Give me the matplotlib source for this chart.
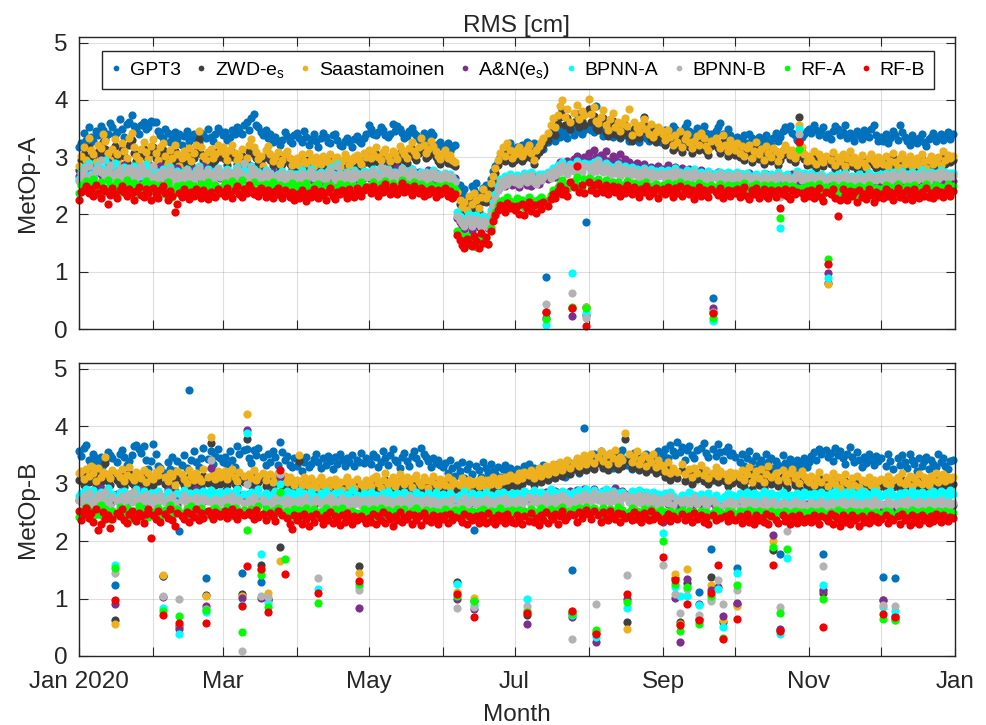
import numpy as np
import matplotlib.pyplot as plt

plt.rcParams['font.family'] = ['Liberation Sans', 'DejaVu Sans']
plt.rcParams['mathtext.fontset'] = 'custom'
plt.rcParams['mathtext.rm'] = 'Liberation Sans'
plt.rcParams['mathtext.it'] = 'Liberation Sans:italic'

series_names = ['GPT3', 'ZWD-e$_\\mathrm{s}$', 'Saastamoinen', 'A&N(e$_\\mathrm{s}$)',
                'BPNN-A', 'BPNN-B', 'RF-A', 'RF-B']
series_colors = ['#0072BD', '#404040', '#EDB120', '#7E2F8E',
                 '#00FFFF', '#B3B3B3', '#00FF00', '#F00000']
month_labels = ['Jan 2020', '', 'Mar', '', 'May', '', 'Jul', '', 'Sep', '', 'Nov', '', 'Jan']

# daily RMS in 1/100 cm, one row per month (Jan..Dec 2020)
# ---- MetOp-A ----
gpt3_a = """
318 325 342 330 352 336 328 345 339 355 347 332 341 360 352 338 344 366 349 335 358 362 373 354 347 340 357 361 349 352 364
362 361 345 338 333 350 342 327 336 344 332 341 322 337 346 329 335 340 331 326 343 338 334 349 336 328 340 351 345
338 344 330 335 348 341 352 346 340 356 361 348 369 375 357 352 344 338 347 333 341 326 335 329 322 330 344 337 328 324 339
342 333 327 345 336 322 331 340 328 318 334 343 336 327 325 339 341 330 322 319 328 333 326 318 331 337 329 324 333 340
356 349 341 338 344 352 347 339 336 340 358 345 354 349 342 333 337 346 351 343 339 331 327 342 336 329 344 338 322 318 326
320 316 325 311 318 322 246 252 238 244 231 226 249 242 255 236 228 247 252 239 262 276 284 292 300 311 306 320 324 315
312 318 308 322 315 327 311 319 324 316 309 321 315 091 326 332 338 329 344 336 351 342 333 348 355 339 346 352 341 347 186
352 348 344 390 356 348 337 345 351 342 336 349 340 333 346 338 341 329 337 344 331 326 339 345 334 328 356 342 330 338 327
338 347 332 341 355 349 336 344 330 352 359 346 338 343 351 337 348 355 342 334 340 054 346 352 360 341 335 349 338 331
327 336 322 330 338 325 341 333 320 328 336 324 331 339 326 321 334 342 329 336 345 352 349 355 343 338 330 326 335 341 346
350 343 357 348 339 345 352 336 341 331 346 355 349 338 344 357 333 342 336 328 345 339 332 347 341 335 350 356 338 329
335 328 341 324 333 346 339 330 357 344 336 329 322 338 331 325 334 340 327 319 332 336 343 328 335 341 330 337 344 332 340
"""
zwd_a = """
278 295 306 289 318 301 297 284 309 303 326 315 298 289 305 319 297 281 312 302 290 321 330 307 294 288 303 314 300 290 309
318 299 289 305 312 295 283 301 291 310 297 278 290 300 294 305 286 298 309 331 306 295 288 298 303 290 296 311 301
305 297 287 301 309 298 288 294 303 283 290 311 318 306 298 289 294 279 301 308 296 286 292 298 282 288 295 300 289 280 285
290 281 295 286 283 297 288 278 291 286 281 292 288 284 295 282 288 292 277 286 295 289 280 286 291 294 287 282 296 292
300 289 296 306 292 288 298 303 293 286 300 296 289 308 302 296 290 305 314 300 295 307 320 310 298 303 316 308 301 293 289
297 301 290 295 288 284 232 219 207 214 202 224 212 230 218 205 222 236 221 229 246 259 272 286 297 305 294 312 302 290
296 302 307 293 299 304 310 298 288 302 309 315 321 030 330 342 352 339 358 371 382 356 368 349 037 362 375 352 364 357 039
384 361 372 351 347 358 368 344 337 353 363 341 349 335 346 356 343 336 329 349 340 334 344 370 354 338 331 346 326 334 341
331 321 337 326 313 328 318 334 309 322 330 317 307 320 327 312 332 324 310 304 319 030 323 316 308 327 313 303 320 310
304 316 300 310 295 307 313 291 302 317 297 306 289 310 300 294 307 303 286 296 304 313 307 297 304 292 300 370 309 297 287
294 288 302 281 298 291 284 295 080 289 300 280 292 286 297 278 291 301 285 293 280 289 296 283 277 291 298 286 281 293
290 283 295 278 287 300 284 277 291 298 282 288 295 278 285 291 280 297 286 275 289 296 283 288 293 281 303 289 297 292 295
"""
saast_a = """
285 302 318 296 334 312 305 291 322 316 340 328 307 296 315 331 306 289 324 311 298 333 342 318 302 295 314 326 309 297 320
331 308 296 317 324 303 290 312 299 322 306 284 298 311 302 316 293 307 321 345 318 303 296 309 314 298 305 322 311
318 306 295 312 321 308 296 302 314 290 299 322 331 318 309 297 303 285 312 320 306 294 301 309 289 296 305 311 298 287 293
299 287 305 294 290 308 296 285 300 293 288 302 297 291 305 289 296 301 283 294 306 298 287 293 300 304 296 289 307 301
312 298 305 318 301 296 309 315 302 294 311 306 297 320 313 305 299 316 326 310 304 318 333 321 308 314 328 319 311 302 297
306 312 299 304 296 291 240 226 213 221 208 232 219 238 225 211 230 244 228 236 255 268 282 296 308 317 303 324 312 298
305 312 318 302 309 315 321 308 296 313 320 327 334 030 342 356 368 352 374 389 400 371 385 362 037 378 392 366 381 373 039
402 375 388 364 359 371 383 356 348 366 377 352 361 345 358 369 354 385 339 362 351 344 356 367 349 341 358 336 344 352 347
341 330 348 335 322 339 327 345 318 332 340 326 316 329 337 321 343 334 319 312 328 028 333 325 316 338 322 311 330 319
312 325 308 319 303 316 322 298 310 327 305 314 296 319 308 301 316 311 293 304 312 322 315 304 312 299 308 357 318 305 294
302 295 311 288 306 299 291 303 079 296 309 287 300 293 305 284 298 310 292 301 287 296 304 290 283 299 306 293 288 301
297 289 303 285 294 308 291 283 299 306 288 295 302 284 291 298 286 305 293 281 296 303 289 294 300 287 311 296 304 299 302
"""
an_a = """
268 275 262 281 289 272 266 278 285 270 263 279 291 274 268 283 276 261 272 287 279 266 273 285 277 264 281 270 268 276 283
279 266 272 284 261 270 277 265 259 274 281 268 262 275 270 258 266 279 271 263 276 284 269 260 273 278 266 271 264
270 263 277 268 259 272 281 266 274 262 269 278 285 271 264 257 270 276 263 268 259 274 266 261 270 264 257 268 273 262 266
264 258 271 266 255 262 270 259 266 273 261 256 268 263 257 270 265 259 262 268 256 263 271 258 265 269 261 257 264 270
268 262 275 266 259 271 278 264 270 262 267 274 281 269 263 276 271 265 279 272 266 274 268 261 270 277 265 260 272 266 262
265 270 262 268 258 263 194 186 180 175 189 182 172 186 191 178 183 195 188 176 201 215 228 242 251 258 249 263 257 252
256 262 248 259 265 252 258 249 261 267 254 260 268 020 262 271 278 266 283 291 287 279 294 286 022 297 303 289 294 301 025
308 295 312 301 289 304 298 310 293 287 302 296 291 305 288 297 283 292 286 279 290 284 277 288 281 275 283 272 279 285 276
280 274 286 271 278 283 269 276 281 268 274 279 266 273 270 263 277 268 272 265 271 036 268 274 262 270 266 259 271 265
268 261 257 270 264 259 272 263 255 267 260 266 258 271 262 256 265 260 253 268 262 257 264 259 270 263 256 340 261 258 265
260 255 267 262 253 258 266 254 097 261 257 250 263 258 254 266 259 252 260 255 249 262 256 251 258 264 253 259 255 261
256 262 251 258 265 254 260 249 257 263 252 259 255 248 261 256 250 258 264 253 257 261 250 256 262 254 259 266 257 262 258
"""
bpnna_a = """
262 275 283 268 290 271 264 279 286 274 281 295 277 269 284 290 273 266 278 283 271 264 276 285 272 280 267 274 288 279 270
281 268 275 262 279 272 266 283 270 259 276 268 261 274 280 266 271 263 277 284 269 273 266 279 271 264 276 282 268
273 267 280 271 264 276 283 269 274 278 266 271 285 279 268 274 262 270 277 266 273 268 260 271 264 276 269 262 273 267 271
270 264 277 268 262 272 279 266 271 260 274 269 263 276 281 270 264 288 273 267 262 275 269 264 278 272 266 271 276 269
274 268 279 263 271 277 266 273 280 269 264 275 271 266 282 276 270 265 279 272 267 261 274 268 275 262 270 278 266 271 263
268 273 262 270 266 259 205 198 192 188 196 201 187 194 199 190 185 197 192 186 208 222 236 249 262 255 268 260 271 265
263 269 258 266 272 261 267 274 262 258 270 265 271 007 275 268 281 274 287 279 292 283 276 288 097 281 294 285 279 290 028
288 277 292 281 296 284 279 290 286 274 283 277 289 272 281 285 276 270 283 275 279 268 277 282 271 275 280 269 276 272 278
274 269 278 265 272 281 268 275 263 270 277 266 273 279 268 262 274 270 265 276 269 014 272 267 275 263 270 274 266 271
268 275 262 270 266 273 259 268 264 271 266 260 273 267 262 270 265 258 274 177 268 262 271 264 259 268 276 349 266 272 263
266 272 260 268 263 271 258 265 089 269 262 257 270 264 260 273 266 259 268 262 257 270 264 260 267 272 262 268 264 269
270 264 273 266 261 275 268 263 271 276 265 270 262 274 268 264 272 277 266 271 263 275 269 273 266 278 271 275 268 273 272
"""
bpnnb_a = """
258 270 279 264 285 267 261 276 282 296 272 266 279 287 270 263 275 281 268 261 273 282 269 277 264 271 285 276 268 273 263
284 266 271 259 276 269 262 280 267 256 272 265 258 271 277 263 268 260 274 281 266 270 263 276 268 261 273 279 265
269 264 276 268 261 273 280 266 271 290 263 268 282 276 265 271 259 267 274 263 270 265 257 268 261 273 266 259 270 264 268
266 261 273 265 259 269 276 263 268 257 271 266 260 273 278 267 261 285 270 264 259 272 266 261 275 269 263 268 273 266
271 265 276 260 268 283 263 270 277 266 261 272 268 263 279 273 267 262 276 269 264 258 271 265 272 259 267 275 263 268 260
265 270 259 267 263 256 198 191 185 180 189 194 180 187 192 183 178 190 185 179 201 215 229 243 256 249 262 254 265 259
257 264 253 261 267 256 262 269 257 253 265 260 266 043 270 263 276 269 282 274 287 278 271 283 063 276 289 280 274 285 020
283 272 287 276 291 279 274 285 281 269 278 272 284 267 276 280 271 265 278 270 274 263 272 277 266 270 275 264 271 267 273
269 264 273 260 267 276 263 270 258 265 272 261 268 274 263 257 269 265 260 271 264 030 267 262 270 258 265 269 261 266
264 270 257 265 261 268 254 263 259 266 261 255 268 262 257 265 260 253 269 230 263 257 266 259 254 263 271 340 261 267 258
262 268 256 264 259 267 254 261 113 265 258 253 266 260 256 269 262 255 264 258 253 266 260 256 263 268 258 264 260 265
266 260 269 262 257 271 264 259 267 272 261 266 258 270 264 260 268 273 262 267 259 271 265 269 262 274 267 271 264 269 268
"""
rfa_a = """
238 251 246 259 244 253 262 241 249 256 238 247 260 252 243 250 257 245 239 254 261 248 242 255 247 236 251 244 258 249 242
253 245 239 252 248 236 257 244 231 240 249 243 251 238 246 254 242 249 237 245 253 241 248 256 243 239 251 246 240
248 255 243 250 258 246 241 253 260 247 244 252 249 256 243 238 251 247 254 242 249 256 245 240 252 247 243 250 246 255 244
246 252 241 248 255 244 239 250 246 253 242 237 249 245 252 240 247 243 254 248 241 251 245 238 249 244 250 256 243 248
250 244 257 248 241 253 246 259 251 244 255 249 243 252 261 247 254 248 242 256 250 245 253 239 248 244 251 246 240 249 243
247 252 243 249 238 245 172 165 158 150 162 147 155 161 143 157 166 152 159 148 176 192 205 214 221 226 218 231 224 220
222 228 217 225 213 221 230 219 224 216 227 231 223 017 226 234 242 236 248 255 261 249 244 253 038 258 266 251 247 262 036
264 251 258 246 262 255 249 260 244 253 257 248 256 243 252 246 259 250 244 255 248 241 253 247 256 242 250 245 253 240 248
251 244 255 248 240 253 246 257 243 249 254 245 251 238 247 255 243 250 246 241 252 020 248 244 253 239 247 251 242 249
246 252 241 249 255 243 238 250 246 253 240 247 252 244 239 251 246 242 249 194 245 251 243 238 250 244 247 314 246 241 249
244 251 239 247 253 242 236 248 122 245 251 240 246 238 252 244 237 249 243 247 235 250 242 246 239 252 244 238 247 242
245 240 252 243 248 237 246 253 241 247 239 250 244 238 252 245 240 248 243 254 241 246 239 251 244 248 242 247 253 244 249
"""
rfb_a = """
226 240 243 249 237 244 232 252 238 229 246 241 218 234 247 236 228 243 250 239 232 245 237 226 241 248 234 230 244 238 225
247 236 229 242 250 238 226 241 233 205 219 238 231 244 236 227 240 233 245 238 229 242 235 227 239 233 230 244 237
240 232 246 236 228 242 249 235 231 244 238 252 245 236 241 233 247 239 230 243 236 228 241 247 234 229 243 237 231 240 226
236 228 242 233 224 238 231 245 237 229 241 234 226 239 246 232 227 240 235 243 238 229 244 236 231 246 239 233 242 248
244 237 250 241 233 247 239 254 243 236 249 242 235 246 255 240 248 241 234 250 243 238 247 232 241 236 244 239 231 242 235
239 246 233 241 228 236 165 156 147 141 158 150 145 162 153 142 167 151 160 148 172 188 199 208 216 213 205 220 212 215
208 214 201 219 199 212 222 206 216 203 218 209 222 030 214 227 236 228 241 249 235 243 232 257 036 248 285 239 251 238 006
256 243 251 238 255 246 240 252 235 247 250 239 248 233 245 237 252 242 236 248 240 231 245 239 250 233 243 237 246 229 241
244 235 248 239 230 246 237 250 232 241 247 236 243 227 238 248 233 242 236 231 245 028 239 234 246 229 238 243 232 241
237 245 230 241 248 233 227 242 236 246 229 238 244 233 228 243 237 231 242 211 236 244 232 227 243 235 239 326 237 229 241
233 243 228 239 246 231 224 240 113 235 244 229 198 226 245 234 225 241 233 239 222 243 231 236 227 245 234 222 239 231
236 229 244 232 239 225 237 246 230 238 227 242 235 226 244 236 229 240 233 247 230 237 228 243 234 240 231 238 246 233 241
"""

# ---- MetOp-B ----
gpt3_b = """
356 348 362 368 341 335 352 344 339 347 333 342 355 349 345 124 338 351 358 346 332 340 349 365 368 360 354 366 342 326 339
369 352 331 328 140 319 337 326 346 322 339 217 333 349 327 463 341 356 338 329 344 362 136 343 357 335 348 361 344
338 347 334 356 341 329 366 352 145 359 360 345 336 358 349 362 129 347 333 351 338 356 347 332 372 355 341 348 333 329 344
331 341 322 338 346 329 335 343 351 337 328 344 333 348 339 325 346 334 352 341 330 345 337 349 331 342 338 353 336 344
341 335 352 347 329 338 356 344 333 350 361 342 337 328 346 353 339 331 348 357 344 336 362 351 347 339 329 344 336 341 333
329 336 318 341 327 314 333 322 338 309 326 334 317 219 331 324 312 337 328 319 335 322 316 329 311 325 333 318 327 321
314 326 318 309 331 322 335 313 327 319 308 324 332 316 321 329 311 325 334 318 328 312 323 336 150 327 341 319 333 396 338
342 329 351 337 346 356 331 344 339 352 328 345 336 349 358 341 333 347 325 354 339 346 331 343 352 338 348 333 345 356 342
352 361 345 368 357 349 372 355 363 341 358 366 350 344 359 112 362 371 353 347 187 360 348 369 355 342 357 364 349 353
346 153 338 352 331 344 357 339 325 348 335 342 329 351 337 344 328 340 333 178 349 336 327 343 334 322 341 330 338 345 329
337 348 355 342 361 351 177 358 346 353 339 362 349 357 344 335 351 364 346 338 355 342 329 347 336 352 341 333 348 339
344 137 331 352 340 326 135 345 333 349 338 327 352 341 335 322 344 331 339 347 326 342 335 329 351 337 344 331 326 339 342
"""
zwd_b = """
307 311 298 314 303 320 308 296 316 302 309 336 305 298 312 063 307 300 315 294 304 318 301 297 310 305 299 313 292 307 300
298 310 304 315 140 300 294 308 302 287 311 052 305 297 291 312 303 296 307 299 294 314 106 301 371 305 297 311 300
304 311 297 307 315 300 294 309 108 302 377 306 298 312 295 303 159 308 296 100 305 292 301 307 190 297 303 291 300 295 286
295 340 288 300 292 284 298 290 281 294 301 286 292 280 295 288 297 284 291 278 293 300 285 292 282 297 157 289 284 295
291 285 298 303 290 282 295 307 288 294 300 285 292 305 297 288 301 294 283 298 304 291 287 300 295 282 293 302 289 285 297
293 287 300 284 295 290 129 286 298 292 283 296 289 095 294 285 297 291 282 295 288 300 292 286 298 293 301 295 304 298
301 295 307 299 310 072 304 313 298 307 316 302 311 320 306 315 324 309 318 327 313 322 331 317 075 325 334 320 329 338 324
330 341 325 040 336 345 328 338 324 342 333 347 325 336 331 378 060 340 327 335 345 323 332 339 320 334 326 341 318 330 322
320 311 326 307 317 135 310 060 323 305 127 314 300 317 308 065 321 304 313 299 138 307 318 302 311 060 305 296 310 301
307 090 300 313 295 306 318 291 303 311 298 315 292 305 320 300 185 307 296 045 312 301 293 308 315 298 304 290 311 302 295
292 303 286 298 310 291 110 300 285 296 307 288 301 282 294 305 290 279 298 287 302 284 295 277 291 300 286 295 282 293
297 098 290 302 286 295 065 300 291 307 288 296 303 285 298 292 305 289 300 294 287 302 296 308 291 299 305 293 301 297 300
"""
saast_b = """
318 322 308 325 314 331 319 305 327 312 320 346 316 309 323 056 318 311 326 304 315 329 312 307 321 316 310 324 302 318 311
308 321 315 326 141 311 304 319 313 297 322 050 316 308 301 323 314 306 318 310 304 325 104 312 382 316 308 322 311
315 322 308 318 326 311 304 320 105 313 421 317 309 323 306 314 150 319 307 110 316 303 312 318 165 308 314 302 311 306 297
306 350 298 311 303 294 309 301 292 305 312 297 303 291 306 299 308 295 302 289 304 311 296 303 293 308 144 300 295 306
302 296 309 314 301 293 306 318 299 305 311 296 303 316 308 299 312 305 294 309 315 302 298 311 306 293 304 313 300 296 308
304 298 311 295 306 301 112 297 309 303 294 307 300 101 305 296 308 302 293 306 299 311 303 297 309 304 312 306 315 309
312 306 318 310 321 080 315 324 309 318 327 313 322 331 317 326 335 320 329 338 324 333 342 328 078 336 345 331 340 349 335
341 352 336 042 347 356 339 349 335 353 344 358 336 347 342 389 047 351 338 346 356 334 343 350 331 345 337 352 329 341 333
331 322 337 318 328 142 321 055 334 316 151 325 311 328 319 060 332 315 324 310 124 318 329 313 322 063 316 307 321 312
318 087 311 324 306 317 329 302 314 322 309 326 303 316 331 311 201 318 307 045 323 312 304 319 326 309 315 301 322 313 306
303 314 297 309 321 302 115 311 296 307 318 299 312 293 305 316 301 290 309 298 313 295 306 288 302 311 297 306 293 304
308 097 301 313 297 306 062 311 302 318 299 307 314 296 309 303 316 300 311 305 298 313 307 319 302 310 316 304 312 308 311
"""
an_b = """
272 281 266 288 275 263 279 286 270 292 268 277 283 265 274 091 282 269 287 276 264 280 271 285 273 267 289 278 262 275 284
279 266 285 271 103 276 289 268 282 274 263 047 278 286 270 281 267 275 290 272 283 269 087 277 327 271 284 266 279
275 288 269 281 273 266 285 277 101 270 393 282 268 276 289 271 101 279 265 097 283 272 268 280 311 274 262 277 284 268 275
271 279 264 276 283 268 275 262 281 273 267 278 270 284 265 276 269 281 263 274 280 267 272 264 277 270 084 274 266 279
268 276 262 273 281 266 270 278 263 275 269 261 277 272 265 280 268 274 263 271 278 266 273 260 275 268 277 264 271 262 269
267 274 261 270 278 264 100 268 276 262 271 265 273 082 269 277 263 272 266 279 268 262 274 270 263 277 269 275 266 272
271 265 278 269 274 055 282 267 276 284 270 279 273 286 268 281 275 288 277 270 285 279 274 287 067 280 289 276 283 291 278
285 279 290 024 283 276 288 281 274 286 278 292 280 273 287 282 100 276 284 271 280 275 286 269 278 273 282 267 276 270 279
233 271 264 276 268 101 262 024 273 266 134 270 259 268 275 091 264 272 261 269 115 266 258 120 271 070 265 260 268 262
268 093 263 259 270 264 257 269 262 254 266 260 271 256 264 268 211 261 255 047 267 259 263 256 270 262 258 266 253 261 265
262 256 268 259 253 264 115 260 255 266 258 262 252 267 260 255 263 257 270 254 261 266 256 259 264 253 260 267 257 262
259 097 265 256 262 254 070 261 266 255 259 263 252 267 258 262 256 264 253 260 266 257 262 255 261 264 256 259 265 258 262
"""
bpnna_b = """
278 284 270 291 276 283 289 273 280 286 271 279 292 275 282 159 277 285 270 288 279 273 284 276 290 281 272 287 279 274 283
282 275 288 271 083 279 286 274 281 268 284 038 277 289 273 283 276 270 285 279 272 287 077 280 289 274 283 277 286
281 274 288 279 271 285 290 276 088 282 389 277 286 273 281 290 177 278 284 093 276 282 288 274 300 281 273 287 279 284 276
280 287 274 283 276 270 285 279 272 117 283 276 288 272 281 277 284 270 286 279 273 282 276 289 274 281 120 277 283 276
279 285 272 281 276 269 284 278 287 273 280 275 283 270 278 286 272 281 277 269 285 274 280 276 271 283 278 273 286 279 275
282 276 270 284 278 273 125 281 275 287 272 279 284 088 276 282 270 278 285 274 280 276 271 283 278 286 274 281 277 283
278 284 273 281 287 100 276 283 289 274 281 286 278 272 284 290 279 285 276 282 288 274 283 279 072 286 280 289 277 284 291
283 278 289 033 281 286 275 290 282 277 288 279 284 273 286 281 084 278 287 274 283 289 276 281 285 272 279 286 274 282 278
214 283 276 286 279 120 273 104 281 277 104 285 272 280 276 088 282 271 278 284 100 275 281 117 273 050 279 284 274 280
277 145 283 274 280 286 271 278 284 273 281 276 287 270 279 283 275 272 280 038 285 274 170 281 277 272 284 279 275 286 281
282 276 284 279 273 286 124 280 275 283 277 288 272 281 276 285 279 273 286 277 282 274 288 279 283 275 281 287 276 284
279 085 283 276 288 281 078 275 284 279 286 273 281 288 277 283 275 286 280 274 284 279 287 276 282 288 279 284 277 289 282
"""
bpnnb_b = """
272 268 278 263 283 270 264 275 280 266 273 285 268 261 277 144 270 266 279 263 274 282 268 285 271 264 277 269 280 258 267
276 263 271 281 105 268 274 262 279 266 258 100 272 280 265 274 268 262 277 270 263 275 082 269 341 266 273 260 270
268 275 262 270 279 264 258 272 009 266 300 271 263 276 268 262 105 273 267 103 259 271 265 278 316 267 260 274 265 270 262
265 272 258 269 276 262 255 268 274 135 266 259 271 264 277 262 270 257 268 275 263 269 258 272 265 274 115 263 271 260
266 273 260 269 262 275 258 267 272 263 257 270 266 274 261 268 263 276 259 265 271 262 269 257 273 266 260 271 264 259 268
262 270 257 266 273 260 084 268 262 275 259 266 271 085 264 270 258 267 274 261 269 263 257 272 266 260 275 268 262 270
267 260 273 265 270 087 276 262 269 275 264 271 266 278 261 272 268 276 263 270 281 267 273 264 030 270 277 265 274 282 271
276 270 283 091 272 279 266 281 273 268 284 270 277 262 275 280 141 268 277 263 274 281 267 272 278 262 270 277 264 273 266
159 275 266 278 262 108 271 074 266 273 116 262 270 276 264 072 269 274 261 268 095 272 265 132 260 091 267 261 269 263
266 115 258 271 264 259 270 262 256 268 263 258 272 260 266 255 269 263 257 085 268 261 218 264 258 270 262 256 267 262 259
262 268 256 265 259 270 156 263 257 268 261 255 266 259 269 262 256 264 270 258 263 266 257 261 268 259 264 271 260 266
264 088 258 270 262 266 087 261 268 257 265 271 260 267 263 256 269 264 259 266 270 262 258 268 263 271 265 260 268 263 266
"""
rfa_b = """
242 253 247 259 241 251 244 256 248 262 243 255 249 238 252 153 246 260 243 250 257 245 239 253 247 261 244 251 256 242 248
251 245 258 242 078 254 247 262 244 250 256 069 249 243 255 247 261 246 252 243 257 250 080 246 254 241 258 249 244
253 246 259 244 251 257 243 248 041 254 219 247 256 243 250 261 141 248 255 086 244 252 247 258 285 249 168 253 246 242 255
247 254 242 251 258 245 249 256 243 093 250 246 257 242 252 248 255 241 249 257 244 251 246 253 242 249 125 247 255 244
252 246 255 243 250 258 244 249 254 241 251 247 256 243 249 255 240 248 252 245 257 243 250 246 254 241 249 253 245 251 247
249 255 243 251 246 254 105 248 256 243 250 245 253 096 247 252 244 256 242 249 253 246 251 243 257 248 244 252 246 254
251 246 254 243 252 077 248 256 244 251 247 258 245 252 249 256 243 250 254 247 259 245 252 248 073 255 250 257 246 253 259
255 249 257 046 252 245 258 250 247 256 243 252 259 248 254 245 094 251 257 246 253 249 244 256 250 247 255 243 251 248 254
200 251 245 253 247 125 250 043 254 246 120 252 244 251 248 056 253 245 250 242 105 249 254 246 251 031 247 253 245 250
248 124 252 245 250 243 254 247 251 244 253 246 250 241 248 252 190 245 251 074 247 253 187 249 244 252 246 250 243 251 247
246 252 244 250 243 253 100 248 245 251 243 249 254 246 250 242 248 253 245 250 244 251 247 242 252 246 249 244 250 247
248 065 252 245 250 244 063 249 253 246 251 244 248 254 246 250 243 252 247 249 254 245 251 246 252 248 244 253 247 250 249
"""
rfb_b = """
252 236 247 258 241 249 233 255 220 229 251 239 246 222 238 098 249 243 255 237 232 247 253 240 235 249 243 231 247 256 206
246 239 253 234 072 248 241 255 236 226 249 058 243 238 251 233 247 242 256 236 249 240 058 252 245 238 251 247 243
248 253 241 247 256 244 238 250 087 245 157 251 246 239 254 242 152 247 236 077 249 243 235 252 323 246 142 240 229 221 245
236 243 230 247 239 226 244 233 248 110 241 229 246 237 251 232 243 238 228 245 234 249 240 230 243 236 131 244 238 232
241 234 248 229 243 237 250 232 245 239 227 244 236 251 233 242 238 247 230 245 236 243 228 249 237 241 233 246 239 230 244
238 245 231 247 236 242 108 240 233 248 229 244 237 068 243 231 246 238 232 249 235 241 230 245 237 243 232 248 239 234
232 246 238 229 244 074 235 249 233 241 228 245 237 250 231 243 239 247 230 244 252 236 242 248 079 245 233 251 240 247 254
248 239 252 039 245 234 250 241 236 253 243 238 249 233 247 240 108 244 236 251 238 245 233 249 240 236 252 238 246 242 235
172 241 248 235 244 133 238 054 247 236 091 243 233 249 238 063 245 234 242 230 110 246 237 158 240 030 244 235 248 239
236 065 244 231 240 247 234 238 229 245 236 241 233 247 230 243 159 237 232 043 246 235 240 229 244 238 232 246 239 234 241
240 233 246 237 229 244 051 241 235 248 230 243 238 226 245 233 241 229 246 236 240 227 244 234 239 231 245 237 242 233
238 073 245 232 241 236 068 243 230 247 236 240 228 245 234 242 229 246 237 241 231 244 235 248 238 233 246 239 235 242 240
"""

metop_a = [gpt3_a, zwd_a, saast_a, an_a, bpnna_a, bpnnb_a, rfa_a, rfb_a]
metop_b = [gpt3_b, zwd_b, saast_b, an_b, bpnna_b, bpnnb_b, rfa_b, rfb_b]

month_starts = np.arange('2020-01', '2021-02', dtype='datetime64[M]').astype('datetime64[D]')


def read_days(text):
    days, vals = [], []
    for m, row in enumerate(text.strip().splitlines()):
        v = np.array(row.split(), dtype=float) / 100
        n = min(len(v), int((month_starts[m + 1] - month_starts[m]).astype(int)))
        days.append(month_starts[m] + np.arange(n))
        vals.append(v[:n])
    return np.concatenate(days), np.concatenate(vals)


ink = '#262626'
fig = plt.figure(figsize=(9.87, 7.25), dpi=100)
ax_a = fig.add_axes([0.0800, 0.5462, 0.8876, 0.4028])
ax_b = fig.add_axes([0.0800, 0.0952, 0.8876, 0.4041])

for ax, group, name in ((ax_a, metop_a, 'MetOp-A'), (ax_b, metop_b, 'MetOp-B')):
    for text, label, color in zip(group, series_names, series_colors):
        d, v = read_days(text)
        ax.plot(d, v, 'o', ms=5.9, mfc=color, mec=color, mew=0,
                label=label, clip_on=False)
    ax.set_xlim(month_starts[0], month_starts[12])
    ax.set_ylim(0, 5.1)
    ax.set_yticks(range(6))
    ax.set_xticks(month_starts)
    ax.set_xticklabels(month_labels)
    ax.grid(True, color=ink, alpha=0.15, lw=0.8)
    ax.set_axisbelow(True)
    ax.tick_params(direction='in', length=6.3, width=0.8, top=True, right=True,
                   labelsize=17.5, pad=8, color=ink, labelcolor=ink)
    ax.tick_params(axis='x', pad=11)
    for sp in ax.spines.values():
        sp.set_color(ink)
        sp.set_linewidth(1.0)
    ax.set_ylabel(name, fontsize=17.6, color=ink, labelpad=11)

ax_a.tick_params(labelbottom=False)
ax_a.set_title('RMS [cm]', fontsize=17.6, color=ink, pad=3)
ax_b.set_xlabel('Month', fontsize=17.6, color=ink, labelpad=8)

leg = ax_a.legend(ncol=8, loc='upper center', bbox_to_anchor=(0.501, 0.952),
                  borderaxespad=0, fontsize=14, handlelength=0.6, handletextpad=0.4,
                  columnspacing=0.75, markerscale=0.7, fancybox=False,
                  edgecolor=ink, framealpha=1, borderpad=0.45)
leg.get_frame().set_linewidth(1.0)

fig.savefig('out.png', dpi=100)
